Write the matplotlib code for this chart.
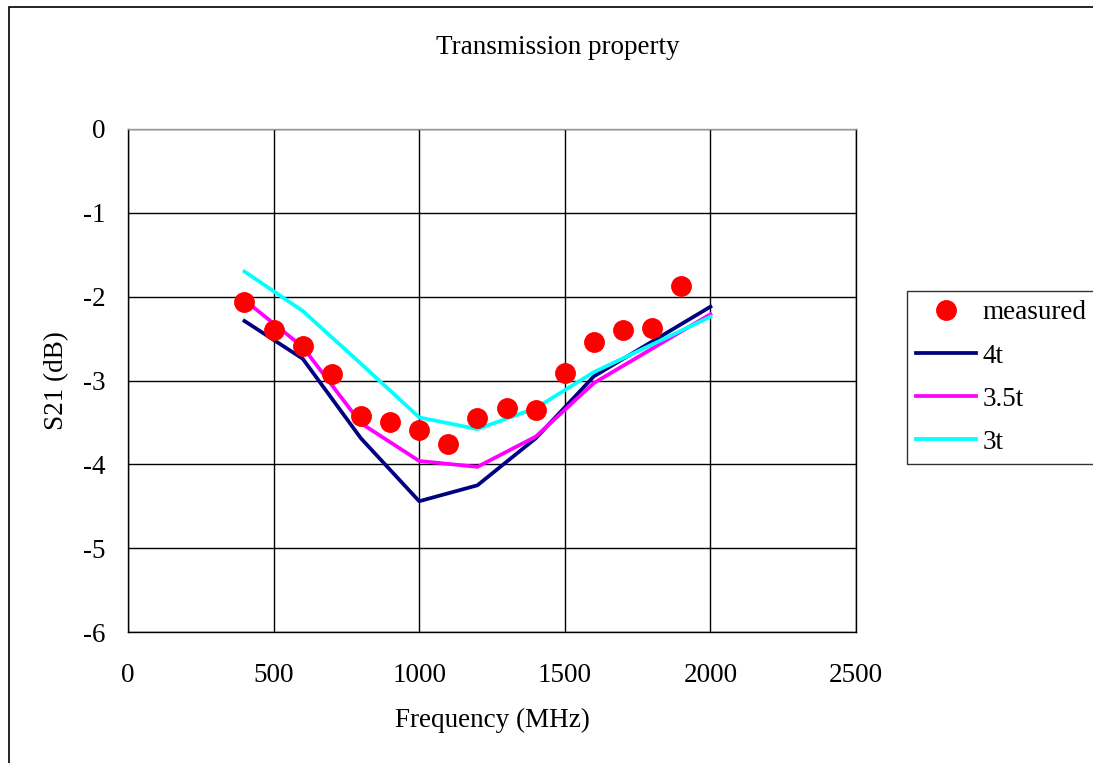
import numpy as np
import matplotlib.pyplot as plt
from matplotlib.patches import Rectangle

plt.rcParams['font.family'] = ['Liberation Serif', 'DejaVu Serif']

# measured S21
freq_meas = [400, 500, 600, 700, 800, 900, 1000, 1100, 1200, 1300, 1400,
             1500, 1600, 1700, 1800, 1900]
s21_meas = [-2.06, -2.40, -2.59, -2.92, -3.42, -3.50, -3.59, -3.76, -3.45,
            -3.33, -3.35, -2.91, -2.54, -2.40, -2.37, -1.87]

# simulated S21 for different thicknesses
freq_sim = [400, 600, 800, 1000, 1200, 1400, 1600, 2000]
s21_4t = [-2.29, -2.74, -3.69, -4.44, -4.25, -3.69, -2.95, -2.12]
s21_35t = [-2.04, -2.60, -3.51, -3.96, -4.03, -3.67, -3.03, -2.21]
s21_3t = [-1.70, -2.17, -2.80, -3.44, -3.58, -3.33, -2.90, -2.24]

W, H = 1093, 763
fs = 19.5

fig = plt.figure(figsize=(W / 100, H / 100), dpi=100)
ax = fig.add_axes([128/W, 1 - 632/H, 728/W, 503/H])

# outer chart frame
fig.patches.append(Rectangle((9/W, -0.05), 1.1, 1 - 7/H + 0.05,
                             transform=fig.transFigure, fill=False,
                             edgecolor='black', linewidth=1.2))

ax.plot(freq_meas, s21_meas, 'o', color='#ff0000', markersize=14,
        label='measured', zorder=5)
ax.plot(freq_sim, s21_4t, color='#000080', linewidth=2.7, label='4t')
ax.plot(freq_sim, s21_35t, color='#ff00ff', linewidth=2.7, label='3.5t')
ax.plot(freq_sim, s21_3t, color='#00ffff', linewidth=2.7, label='3t')

ax.set_xlim(0, 2500)
ax.set_ylim(-6, 0)
ax.set_xticks(np.arange(0, 2501, 500))
ax.set_yticks(np.arange(-6, 0.1, 1))
ax.set_yticklabels([str(v) for v in range(-6, 1)])
ax.grid(True, color='black', linewidth=1)
ax.set_axisbelow(True)
ax.tick_params(length=0, labelsize=fs)
ax.tick_params(axis='x', pad=22)
ax.tick_params(axis='y', pad=16)
for s in ax.spines.values():
    s.set_color('black')
    s.set_linewidth(1)
ax.spines['top'].set_color('#999999')

fig.text(558/W, 1 - 48/H, 'Transmission property', fontsize=fs,
         ha='center', va='center')
fig.text(492/W, 1 - 720/H, 'Frequency (MHz)', fontsize=fs,
         ha='center', va='center')
fig.text(57/W, 1 - 381/H, 'S21 (dB)', fontsize=fs, rotation=90,
         ha='center', va='center')

leg = fig.legend(loc='upper left', bbox_to_anchor=(907/W, 1 - 291/H),
                 fontsize=fs, frameon=True, fancybox=False, handlelength=2.2,
                 labelspacing=0.67, borderpad=0.35, handletextpad=0.25,
                 borderaxespad=0)
leg.get_frame().set_edgecolor('black')
leg.get_frame().set_linewidth(1)

fig.savefig('out.png', dpi=100)
